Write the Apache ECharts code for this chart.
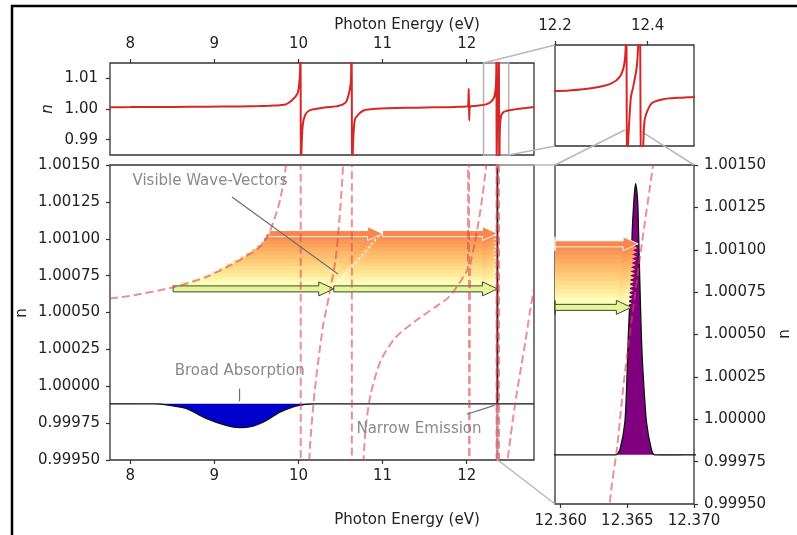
<!DOCTYPE html>
<html>
<head>
<meta charset="utf-8">
<script src="https://cdn.jsdelivr.net/npm/echarts@6/dist/echarts.min.js"></script>
<style>
  html, body { margin: 0; padding: 0; background: #fff; }
  #chart { width: 797px; height: 535px; }
</style>
</head>
<body>
<div id="chart"></div>
<script>
// refractive index n(E)
const curveE = [7.76, 8.0, 8.5, 8.9, 9.3, 9.54, 9.64, 9.70, 9.78, 9.85, 9.93, 9.99, 10.01, 10.02, 10.025,
  10.029, 10.035, 10.05, 10.08, 10.13, 10.19, 10.29, 10.37, 10.44, 10.48, 10.53, 10.57, 10.61, 10.625, 10.632,
  10.638, 10.645, 10.67, 10.73, 10.775, 10.80, 10.86, 10.98, 11.16, 11.40, 11.63, 11.79, 11.91, 12.0,
  12.015, 12.025, 12.03, 12.04, 12.10, 12.17, 12.23, 12.285, 12.322, 12.340, 12.349, 12.3528, 12.354,
  12.3555, 12.3575, 12.3615, 12.36369, 12.36424, 12.36481, 12.36606, 12.36693, 12.3687, 12.3761, 12.3796, 12.383,
  12.386, 12.3904, 12.3941, 12.4087, 12.4376, 12.4665, 12.487, 12.52, 12.55, 12.60, 12.65, 12.70, 12.75, 12.80];
const curveN = [1.000595, 1.000613, 1.00067, 1.00074, 1.000855, 1.000945, 1.001025, 1.00111, 1.00126, 1.0015, 1.003, 1.0052, 1.0085, 1.013, 1.03,
  0.97, 0.985, 0.9945, 0.9981, 0.99951, 0.99995, 1.0004, 1.00063, 1.000855, 1.00108, 1.0015, 1.0025, 1.0063, 1.01, 1.03,
  0.97, 0.985, 0.9965, 0.9987, 0.99951, 0.99972, 0.99995, 1.000176, 1.000334, 1.000447, 1.000538, 1.000606, 1.000697, 1.00078,
  1.0008, 1.0066, 0.9963, 1.0008, 1.00098, 1.00122, 1.0015, 1.0023, 1.0036, 1.0056, 1.009, 1.015, 1.03,
  0.97, 0.985, 0.9952, 0.9995, 0.99984, 1.00027, 1.00102, 1.0015, 1.0025, 1.0081, 1.015, 1.03,
  0.97, 0.985, 0.9932, 0.9977, 0.9990, 0.9993, 0.9995, 0.99965, 0.99978, 0.99997, 1.00014, 1.00031, 1.00050, 1.00066];

// broad absorption (main panel)
const absE = [7.76, 8.30, 8.45, 8.67, 8.91, 9.14, 9.30, 9.46, 9.62, 9.78, 9.93, 10.01, 10.17];
const absN = [0.99988, 0.99988, 0.999872, 0.999848, 0.99978, 0.999734, 0.999719, 0.99973, 0.999768, 0.999825, 0.999859, 0.99987, 0.99988];
const specEndE = 12.8;

// narrow emission, height above its baseline
const emisE = [12.3590, 12.36400, 12.36415, 12.36444, 12.36481, 12.36498, 12.36506, 12.36524, 12.36536, 12.36549,
  12.36561, 12.36577, 12.36584, 12.36594, 12.36606, 12.36618, 12.36644, 12.36681, 12.36706, 12.3705];
const emisH = [0, 0, 0, 0.00003, 0.00019, 0.00048, 0.00068, 0.00101, 0.00131, 0.00150,
  0.00160, 0.00150, 0.00131, 0.00101, 0.00068, 0.00048, 0.00019, 0.00003, 0, 0];
const mainBase = 0.99988;
const zoomBase = 0.99979;

// wave-vector arrows, bottom (green) to top (orange)
const arrowN = [1.000660, 1.000685, 1.000710, 1.000735, 1.000760, 1.000785, 1.000810, 1.000835,
  1.000860, 1.000885, 1.000910, 1.000935, 1.000960, 1.000985, 1.001010, 1.001035];
const arrowStart = [8.51, 8.59, 8.73, 8.87, 8.97, 9.06, 9.14, 9.23, 9.31, 9.38, 9.45, 9.51, 9.56, 9.59, 9.62, 9.65];
const arrowMid = [10.42, 10.46, 10.50, 10.54, 10.57, 10.61, 10.65, 10.69, 10.73, 10.77, 10.81, 10.85, 10.88, 10.92, 10.96, 11.00];
const arrowEnd = [12.36530, 12.36533, 12.36537, 12.36540, 12.36543, 12.36547, 12.36550, 12.36553,
  12.36557, 12.36560, 12.36563, 12.36567, 12.36570, 12.36573, 12.36577, 12.36581];

// ticks
const eTicks = [8, 9, 10, 11, 12];
const insetTicks = [12.2, 12.4];
const zoomTicks = [12.360, 12.365, 12.370];
const coarseTicks = [0.99, 1.00, 1.01];
const fineTicks = [0.9995, 0.99975, 1.0, 1.00025, 1.0005, 1.00075, 1.001, 1.00125, 1.0015];

const fullX = [7.76, 12.8];
const insetX = [12.2, 12.5];
const zoomX = [12.35957, 12.37];
const coarseY = [0.985, 1.015];
const fineY = [0.9995, 1.0015];

const notes = [
  { text: 'Visible Wave-Vectors', at: [8.949, 1.00139], from: [9.21, 1.001283], to: [10.47, 1.000761] },
  { text: 'Broad Absorption', at: [9.302, 1.000103], from: [9.30, 0.999984], to: [9.30, 0.999897] },
  { text: 'Narrow Emission', at: [11.433, 0.999712], from: [12.0, 0.99981], to: [12.33, 0.99987] }
];

const FONT = '"DejaVu Sans", sans-serif';
const RED = '#d62728';
const DASH_RED = 'rgba(222, 70, 80, 0.6)';
const HEAD_LEN = 15, HEAD_W = 7, SHAFT = 3;
const SMOOTH = 0.25;

const spectral = [
  [0.2, [244, 109, 67]], [0.3, [253, 174, 97]], [0.4, [254, 224, 139]],
  [0.5, [255, 255, 191]], [0.6, [230, 245, 152]], [0.7, [171, 221, 164]]
];
function cmap(t) {
  for (let k = 0; k < spectral.length - 1; k++) {
    const [t0, c0] = spectral[k], [t1, c1] = spectral[k + 1];
    if (t <= t1) {
      const f = Math.max(0, (t - t0) / (t1 - t0));
      const c = c0.map((v, j) => Math.round(v + (c1[j] - v) * f));
      return 'rgb(' + c.join(',') + ')';
    }
  }
  return 'rgb(171,221,164)';
}
// more orange towards the top, pale green at the bottom
const arrowColors = arrowN.map((_, i) => cmap(0.60 - 0.36 * Math.pow(i / (arrowN.length - 1), 0.6)));

const pts = (xs, ys) => xs.map((x, i) => [x, ys[i]]);
const curve = pts(curveE, curveN);
const absPts = pts(absE, absN);
const emisMain = emisE.map((x, i) => [x, mainBase + emisH[i]]);
const emisZoom = emisE.map((x, i) => [x, zoomBase + emisH[i]]);
const mainSpec = absPts.concat(emisMain, [[specEndE, mainBase]]);

// arrow rows: [from, to, n, index]; orange ones bottom-to-top, green one last
const arrowRows = [];
for (let i = 1; i < arrowN.length; i++) {
  arrowRows.push([arrowStart[i], arrowMid[i], arrowN[i], i]);
  arrowRows.push([arrowMid[i], arrowEnd[i], arrowN[i], i]);
}
arrowRows.push([arrowStart[0], arrowMid[0], arrowN[0], 0]);
arrowRows.push([arrowMid[0], arrowEnd[0], arrowN[0], 0]);

const chart = echarts.init(document.getElementById('chart'));

function xAxis(grid, range, pos, ticks, fmt, margin) {
  return {
    type: 'value', gridIndex: grid, min: range[0], max: range[1], position: pos,
    axisLine: { show: false }, splitLine: { show: false },
    axisTick: { show: true, length: 4, customValues: ticks, lineStyle: { color: '#333', width: 1.2 } },
    axisLabel: { show: true, customValues: ticks, formatter: fmt, margin: margin, color: '#222', fontSize: 15, fontFamily: FONT }
  };
}
function yAxis(grid, range, pos, ticks, fmt, margin) {
  return {
    type: 'value', gridIndex: grid, min: range[0], max: range[1], position: pos,
    axisLine: { show: false }, splitLine: { show: false },
    axisTick: { show: !!ticks, length: 4, customValues: ticks || [], lineStyle: { color: '#333', width: 1.2 } },
    axisLabel: { show: !!ticks, customValues: ticks || [], formatter: fmt, margin: margin, color: '#222', fontSize: 15, fontFamily: FONT }
  };
}

function clipPts(points, cs) {
  return echarts.graphic.clipPointsByRect(points, { x: cs.x, y: cs.y, width: cs.width, height: cs.height });
}

function polySeries(g, points, fill, stroke, z) {
  return {
    type: 'custom', xAxisIndex: g, yAxisIndex: g, z: z, silent: true,
    data: [[points[1][0], points[1][1]]],
    renderItem(params, api) {
      const p = clipPts(points.map(q => api.coord(q)), params.coordSys);
      return { type: 'polygon', shape: { points: p, smooth: SMOOTH }, style: { fill: fill, stroke: stroke, lineWidth: 1 } };
    }
  };
}

function arrowSeries(g, z) {
  return {
    type: 'custom', xAxisIndex: g, yAxisIndex: g, z: z, silent: true,
    data: arrowRows,
    encode: { x: 1, y: 2 },
    renderItem(params, api) {
      const i = api.value(3);
      const a = api.coord([api.value(0), api.value(2)]);
      const b = api.coord([api.value(1), api.value(2)]);
      const y = a[1];
      const neck = Math.max(a[0], b[0] - HEAD_LEN);
      const shape = [[a[0], y - SHAFT], [neck, y - SHAFT], [neck, y - HEAD_W], [b[0], y],
        [neck, y + HEAD_W], [neck, y + SHAFT], [a[0], y + SHAFT]];
      let stroke = 'none', lw = 0;
      if (i === 0) { stroke = '#3d4a2e'; lw = 1; }
      else if (i === arrowN.length - 1) { stroke = 'rgba(255,255,255,0.9)'; lw = 1; }
      return {
        type: 'polygon', shape: { points: clipPts(shape, params.coordSys) },
        style: { fill: arrowColors[i], stroke: stroke, lineWidth: lw }
      };
    }
  };
}

function rectSeries(g, xr, yr) {
  return {
    type: 'custom', xAxisIndex: g, yAxisIndex: g, z: 1, silent: true,
    data: [[xr[0], yr[0]]],
    renderItem(params, api) {
      const a = api.coord([xr[0], yr[1]]), b = api.coord([xr[1], yr[0]]);
      return { type: 'rect', shape: { x: a[0], y: a[1], width: b[0] - a[0], height: b[1] - a[1] },
        style: { fill: 'none', stroke: '#b4b4b4', lineWidth: 1.5 } };
    }
  };
}

function lineSeries(g, data, color, width, dash, z) {
  return {
    type: 'line', xAxisIndex: g, yAxisIndex: g, data: data, z: z, silent: true,
    showSymbol: false, symbol: 'none', clip: true, smooth: SMOOTH,
    lineStyle: { color: color, width: width, type: dash || 'solid' }
  };
}

const gridBase = { show: true, borderColor: '#333', borderWidth: 1.3, backgroundColor: 'transparent', containLabel: false, outerBoundsMode: 'none' };

chart.setOption({
  animation: false,
  textStyle: { fontFamily: FONT },
  grid: [
    Object.assign({ left: 110, top: 63, width: 424, height: 92 }, gridBase),
    Object.assign({ left: 555, top: 45, width: 139, height: 101 }, gridBase),
    Object.assign({ left: 110, top: 165, width: 424, height: 295 }, gridBase),
    Object.assign({ left: 555, top: 165, width: 139, height: 339 }, gridBase)
  ],
  xAxis: [
    xAxis(0, fullX, 'top', eTicks, v => String(Math.round(v)), 11),
    xAxis(1, insetX, 'top', insetTicks, v => v.toFixed(1), 11),
    xAxis(2, fullX, 'bottom', eTicks, v => String(Math.round(v)), 9),
    xAxis(3, zoomX, 'bottom', zoomTicks, v => v.toFixed(3), 10)
  ],
  yAxis: [
    yAxis(0, coarseY, 'left', coarseTicks, v => v.toFixed(2), 12),
    yAxis(1, coarseY, 'left', null, null, 8),
    yAxis(2, fineY, 'left', fineTicks, v => v.toFixed(5), 10),
    yAxis(3, fineY, 'right', fineTicks, v => v.toFixed(5), 10)
  ],
  series: [
    rectSeries(0, [12.2, 12.5], coarseY),
    lineSeries(0, curve, RED, 2, null, 3),
    lineSeries(1, curve, RED, 2, null, 3),

    polySeries(2, absPts, '#0000cc', 'none', 2),
    arrowSeries(2, 3),
    polySeries(2, emisMain, '#800080', '#2a0030', 4),
    lineSeries(2, mainSpec, '#111', 1.3, null, 5),
    rectSeries(2, zoomX, fineY),
    lineSeries(2, curve, DASH_RED, 2, [8, 4], 6),
    {
      type: 'custom', xAxisIndex: 2, yAxisIndex: 2, z: 8, silent: true,
      data: notes.map((n, i) => [n.at[0], n.at[1], i]),
      renderItem(params, api) {
        const note = notes[api.value(2)];
        const p = api.coord(note.at), a = api.coord(note.from), b = api.coord(note.to);
        return { type: 'group', children: [
          { type: 'line', shape: { x1: a[0], y1: a[1], x2: b[0], y2: b[1] }, style: { stroke: '#707070', lineWidth: 1.2 } },
          { type: 'text', x: p[0], y: p[1], style: { text: note.text, fill: '#8a8a8a', font: '15px ' + FONT, align: 'center', verticalAlign: 'middle' } }
        ] };
      }
    },

    polySeries(3, emisZoom, '#800080', 'none', 2),
    lineSeries(3, emisZoom, '#111', 1.3, null, 3),
    arrowSeries(3, 4),
    lineSeries(3, curve, DASH_RED, 2, [8, 4], 6)
  ]
});

// connectors between panels, frame and axis titles
const px = (g, p) => chart.convertToPixel({ gridIndex: g }, p);
const links = [
  [0, [12.2, coarseY[1]], 1, [12.2, coarseY[1]]],
  [0, [12.5, coarseY[0]], 1, [12.2, coarseY[0]]],
  [2, [zoomX[1], fineY[1]], 3, [zoomX[0], fineY[1]]],
  [2, [zoomX[1], fineY[0]], 3, [zoomX[0], fineY[0]]],
  [1, [12.3507, 0.98975], 3, [zoomX[0], fineY[1]]],
  [1, [12.387, 0.98925], 3, [zoomX[1], fineY[1]]]
];
const graphics = links.map(l => {
  const a = px(l[0], l[1]), b = px(l[2], l[3]);
  return { type: 'line', z: 0, silent: true, shape: { x1: a[0], y1: a[1], x2: b[0], y2: b[1] }, style: { stroke: '#b8b8b8', lineWidth: 1.5 } };
});
graphics.push(
  { type: 'rect', silent: true, shape: { x: 12, y: 6, width: 800, height: 540 }, style: { fill: 'none', stroke: '#000', lineWidth: 2.5 } },
  { type: 'text', silent: true, x: 407, y: 25, style: { text: 'Photon Energy (eV)', font: '15px ' + FONT, fill: '#222', align: 'center', verticalAlign: 'middle' } },
  { type: 'text', silent: true, x: 407, y: 520, style: { text: 'Photon Energy (eV)', font: '15px ' + FONT, fill: '#222', align: 'center', verticalAlign: 'middle' } },
  { type: 'text', silent: true, x: 48, y: 109, rotation: Math.PI / 2, style: { text: 'n', font: 'italic 15px ' + FONT, fill: '#222', align: 'center', verticalAlign: 'middle' } },
  { type: 'text', silent: true, x: 22, y: 313, rotation: Math.PI / 2, style: { text: 'n', font: '15px ' + FONT, fill: '#222', align: 'center', verticalAlign: 'middle' } },
  { type: 'text', silent: true, x: 785, y: 334, rotation: Math.PI / 2, style: { text: 'n', font: '15px ' + FONT, fill: '#222', align: 'center', verticalAlign: 'middle' } }
);
chart.setOption({ graphic: graphics });
</script>
</body>
</html>
